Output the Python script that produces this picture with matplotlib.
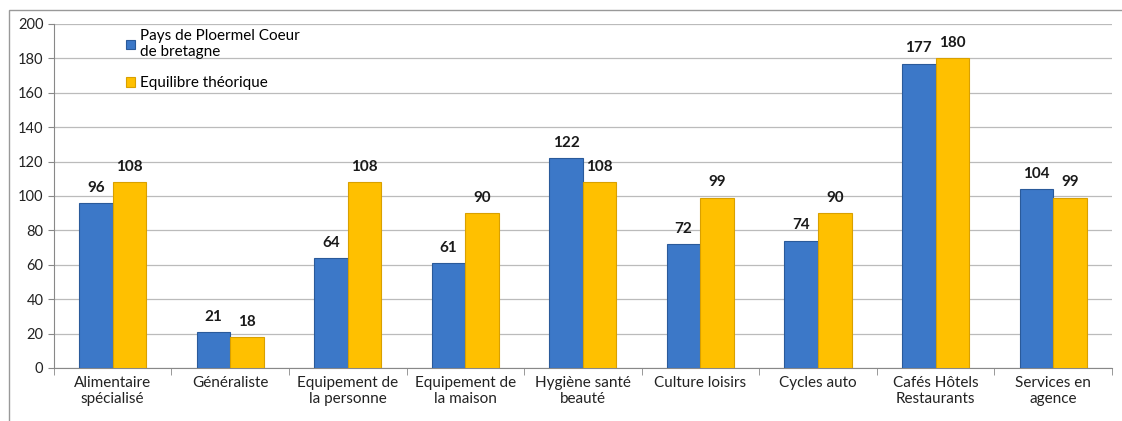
import matplotlib
matplotlib.use("Agg")
import matplotlib.pyplot as plt
import numpy as np
from matplotlib.patches import Rectangle

categories = ["Alimentaire\nspécialisé", "Généraliste", "Equipement de\nla personne",
              "Equipement de\nla maison", "Hygiène santé\nbeauté", "Culture loisirs",
              "Cycles auto", "Cafés Hôtels\nRestaurants", "Services en\nagence"]
pays = [96, 21, 64, 61, 122, 72, 74, 177, 104]
equilibre = [108, 18, 108, 90, 108, 99, 90, 180, 99]
series_names = ["Pays de Ploermel Coeur\nde bretagne", "Equilibre théorique"]
yticks = list(range(0, 201, 20))

plt.rcParams['font.family'] = ['Lato', 'DejaVu Sans']

fig = plt.figure(figsize=(11.22, 4.21), dpi=100)
ax = fig.add_axes([0.048, 0.126, 0.943, 0.817])

x = np.arange(len(categories))
w = 0.285
b1 = ax.bar(x - w/2, pays, w, color="#3C78C8", edgecolor="#2A5A9A", linewidth=0.8,
            label=series_names[0], zorder=3)
b2 = ax.bar(x + w/2, equilibre, w, color="#FFC000", edgecolor="#D9A000", linewidth=0.8,
            label=series_names[1], zorder=3)

for bars, vals in ((b1, pays), (b2, equilibre)):
    for r, v in zip(bars, vals):
        ax.annotate(f"{v}", (r.get_x() + r.get_width()/2, v), xytext=(0, 6),
                    textcoords="offset points", ha="center", va="bottom",
                    fontsize=11, fontweight="bold", color="#1a1a1a")

ax.set_xlim(-0.5, len(categories) - 0.5)
ax.set_ylim(0, 200)
ax.set_yticks(yticks)
ax.tick_params(axis='y', labelsize=10.5, length=4, color="#888888", colors="#222222")
ax.set_xticks(x)
ax.set_xticklabels(categories, fontsize=11, color="#222222")
ax.tick_params(axis='x', length=0, pad=6)
ax.set_xticks(np.arange(-0.5, len(categories)), minor=True)
ax.tick_params(axis='x', which='minor', length=5, color="#888888")
ax.yaxis.grid(True, color="#BBBBBB", linewidth=0.9, zorder=0)
ax.set_axisbelow(True)
for s in ("top", "right"):
    ax.spines[s].set_visible(False)
for s in ("left", "bottom"):
    ax.spines[s].set_color("#888888")

leg = ax.legend(loc="upper left", bbox_to_anchor=(0.055, 1.025), frameon=False,
                fontsize=11, handlelength=0.6, handleheight=0.6, handletextpad=0.3,
                labelspacing=1.1)

fig.patches.append(Rectangle((9/1122, -0.1), 1.2, 1.1 - 10/421, transform=fig.transFigure,
                             fill=False, edgecolor="#999999", linewidth=1.0))

fig.savefig("out.png", dpi=100)
